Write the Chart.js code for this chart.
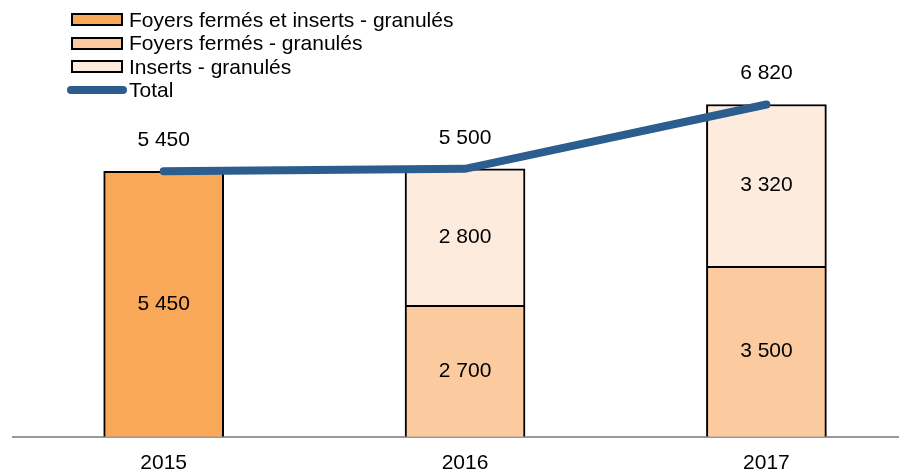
<!DOCTYPE html>
<html lang="fr">
<head>
<meta charset="utf-8">
<title>Granulés</title>
<script src="https://cdn.jsdelivr.net/npm/chart.js@4/dist/chart.umd.min.js"></script>
<style>
	html, body { margin: 0; padding: 0; background: #fff; }
	#wrap { position: relative; width: 899px; height: 474px; }
	#legend {
		position: absolute; left: 67px; top: 8px;
		font: 21px 'Liberation Sans', Arial, sans-serif; color: #000;
	}
	.item { display: flex; align-items: center; height: 23.5px; }
	.swatch { box-sizing: border-box; width: 52px; height: 13px; margin-left: 4px; margin-right: 6px; border: 2px solid #000; }
	.swatch.line { width: 60px; height: 8px; margin-left: 0; margin-right: 2px; border: none; border-radius: 4px; }
</style>
</head>
<body>
<div id="wrap">
	<canvas id="chart" width="899" height="474"></canvas>
	<div id="legend"></div>
</div>
<script>
// values
const years = [2015, 2016, 2017];
const fermesEtInserts = [5450, null, null];
const fermes = [null, 2700, 3500];
const inserts = [null, 2800, 3320];
const total = [5450, 5500, 6820];

const seriesNames = ['Foyers fermés et inserts - granulés', 'Foyers fermés - granulés', 'Inserts - granulés', 'Total'];
const colors = ['#F9A85A', '#FBCA9E', '#FDEBDE', '#2B5D8F'];

const FONT = "'Liberation Sans', Arial, sans-serif";

function fmt(v) {
	return String(v).replace(/\B(?=(\d{3})+(?!\d))/g, ' ');
}

function points(values) {
	return years.map((y, i) => ({ x: y, y: values[i] }));
}

// draws the numbers in the bars and above the total line
const valueLabels = {
	id: 'valueLabels',
	afterDatasetsDraw(chart) {
		const ctx = chart.ctx;
		ctx.save();
		ctx.font = '21px ' + FONT;
		ctx.fillStyle = '#000';
		ctx.textAlign = 'center';
		ctx.textBaseline = 'middle';
		chart.data.datasets.forEach((ds, d) => {
			const meta = chart.getDatasetMeta(d);
			meta.data.forEach((el, i) => {
				const v = ds.data[i].y;
				if (v == null) return;
				if (ds.type === 'line') {
					ctx.fillText(fmt(v), el.x, el.y - 31);
				} else {
					ctx.fillText(fmt(v), el.x, (el.y + el.base) / 2);
				}
			});
		});
		ctx.restore();
	}
};

const barBase = { type: 'bar', barThickness: 120, borderColor: '#000', borderWidth: 2, order: 1 };

const chart = new Chart(document.getElementById('chart'), {
	data: {
		datasets: [
			{ ...barBase, label: seriesNames[0], data: points(fermesEtInserts), backgroundColor: colors[0] },
			{ ...barBase, label: seriesNames[1], data: points(fermes), backgroundColor: colors[1] },
			{ ...barBase, label: seriesNames[2], data: points(inserts), backgroundColor: colors[2] },
			{
				type: 'line',
				label: seriesNames[3],
				data: points(total),
				borderColor: colors[3],
				backgroundColor: colors[3],
				borderWidth: 8,
				borderCapStyle: 'round',
				pointRadius: 0,
				tension: 0,
				order: 0,
			},
		],
	},
	options: {
		responsive: false,
		animation: false,
		layout: { padding: { left: 13, right: 0, top: 8, bottom: -16 } },
		plugins: {
			legend: { display: false },
			tooltip: { enabled: false },
		},
		scales: {
			x: {
				type: 'linear',
				stacked: true,
				offset: false,
				min: 2014.5,
				max: 2017.44,
				afterBuildTicks: (scale) => {
					scale.ticks = years.map((y) => ({ value: y }));
				},
				ticks: {
					padding: 14,
					color: '#000',
					font: { family: FONT, size: 21, lineHeight: 1.2 },
					callback: (v) => String(v),
				},
				grid: { display: false, drawTicks: false, offset: false },
				border: { display: true, color: '#999', width: 2 },
			},
			y: {
				display: false,
				stacked: true,
				min: 0,
				max: 8800,
			},
		},
	},
	plugins: [valueLabels],
});

// legend built from the series names and colours
const legend = document.getElementById('legend');
seriesNames.forEach((name, i) => {
	const row = document.createElement('div');
	row.className = 'item';
	const sw = document.createElement('span');
	sw.className = i === 3 ? 'swatch line' : 'swatch';
	sw.style.background = colors[i];
	row.appendChild(sw);
	row.appendChild(document.createTextNode(name));
	legend.appendChild(row);
});
</script>
</body>
</html>
